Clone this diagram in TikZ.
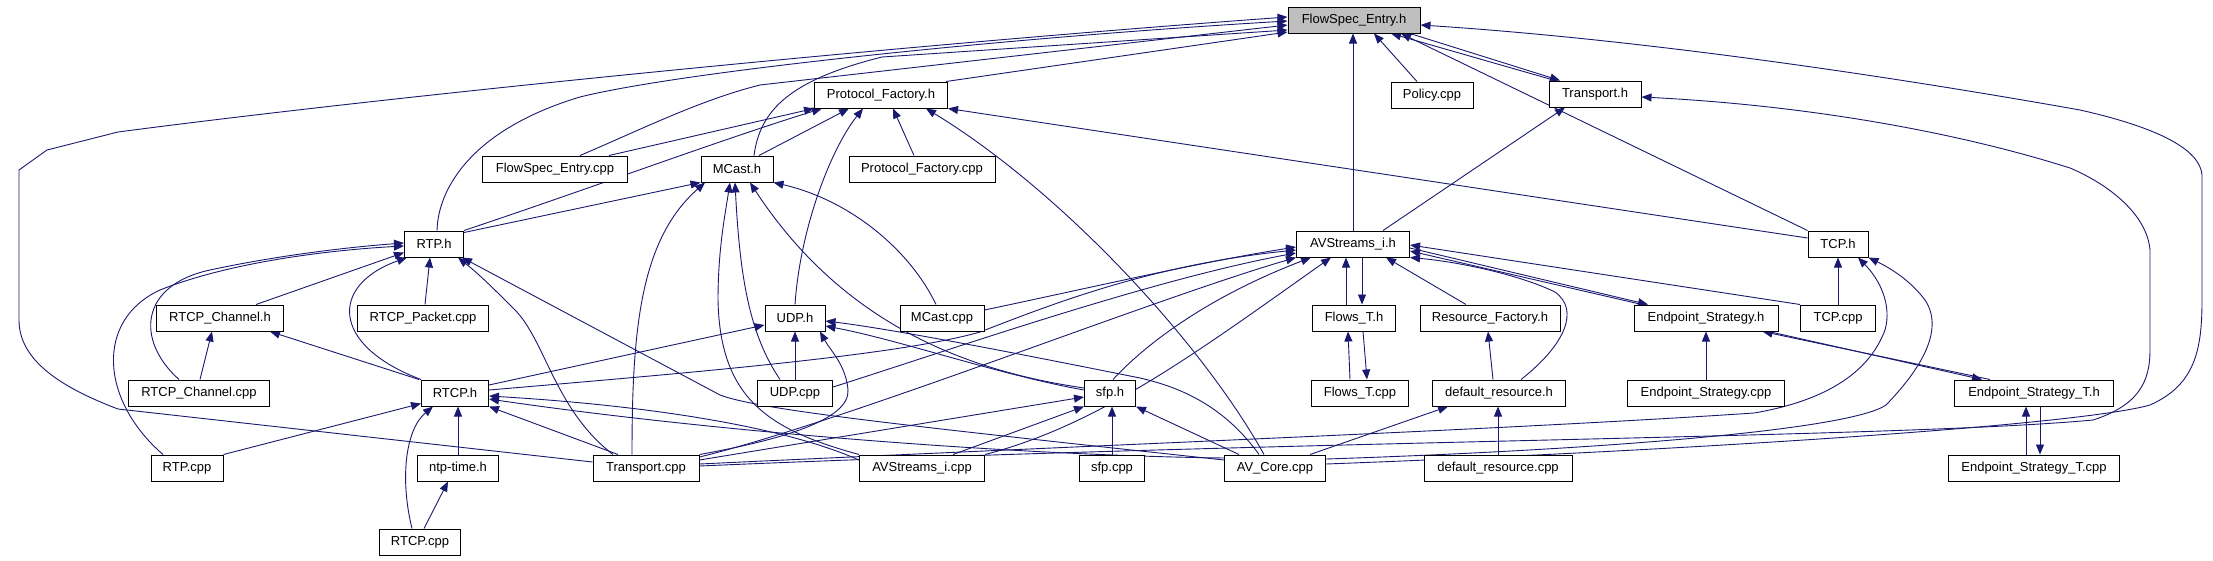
\documentclass[tikz,border=0pt]{standalone}
\usepackage{fontspec}
\setmainfont{Liberation Sans}
\usetikzlibrary{arrows.meta}
\definecolor{edgec}{RGB}{25,25,112}
\definecolor{hl}{RGB}{191,191,191}
\pgfdeclarelayer{back}
\pgfdeclarelayer{edges}
\pgfsetlayers{back,edges,main}
\tikzset{
  fnode/.style={draw=black, line width=1pt, fill=white, minimum height=26pt, inner sep=0pt, font=\fontsize{13}{15}\selectfont},
  dep/.style={draw=edgec, line width=0.9pt, -{Triangle[length=10pt,width=8pt]}},
}
\begin{document}
\begin{tikzpicture}[x=1pt,y=-1pt]
\begin{pgfonlayer}{back}
\fill[white] (0,0) rectangle (2213,560);
\end{pgfonlayer}
\useasboundingbox (0,0) rectangle (2213,560);
% nodes
\node[fnode, minimum width=132pt, fill=hl] (fesh) at (1354,20) {FlowSpec\_Entry.h};
\node[fnode, minimum width=133pt] (pfh) at (881,95) {Protocol\_Factory.h};
\node[fnode, minimum width=82pt] (pol) at (1432,95) {Policy.cpp};
\node[fnode, minimum width=92pt] (trh) at (1595,94) {Transport.h};
\node[fnode, minimum width=145pt] (fesc) at (555,169) {FlowSpec\_Entry.cpp};
\node[fnode, minimum width=72pt] (mch) at (737,169) {MCast.h};
\node[fnode, minimum width=146pt] (pfc) at (922,169) {Protocol\_Factory.cpp};
\node[fnode, minimum width=59pt] (rtph) at (434,244) {RTP.h};
\node[fnode, minimum width=113pt] (avh) at (1353,244) {AVStreams\_i.h};
\node[fnode, minimum width=60pt] (tcph) at (1838,244) {TCP.h};
\node[fnode, minimum width=127pt] (rcch) at (220,318) {RTCP\_Channel.h};
\node[fnode, minimum width=131pt] (rpc) at (423,318) {RTCP\_Packet.cpp};
\node[fnode, minimum width=60pt] (udph) at (795,318) {UDP.h};
\node[fnode, minimum width=84pt] (mcc) at (942,318) {MCast.cpp};
\node[fnode, minimum width=83pt] (flh) at (1354,318) {Flows\_T.h};
\node[fnode, minimum width=140pt] (rfh) at (1490,318) {Resource\_Factory.h};
\node[fnode, minimum width=144pt] (esh) at (1706,318) {Endpoint\_Strategy.h};
\node[fnode, minimum width=75pt] (tcpc) at (1838,318) {TCP.cpp};
\node[fnode, minimum width=141pt] (rccc) at (199,393) {RTCP\_Channel.cpp};
\node[fnode, minimum width=67pt] (rtcph) at (455,393) {RTCP.h};
\node[fnode, minimum width=75pt] (udpc) at (795,393) {UDP.cpp};
\node[fnode, minimum width=51pt] (sfph) at (1110,393) {sfp.h};
\node[fnode, minimum width=97pt] (flc) at (1360,393) {Flows\_T.cpp};
\node[fnode, minimum width=133pt] (drh) at (1499,393) {default\_resource.h};
\node[fnode, minimum width=157pt] (esc) at (1706,393) {Endpoint\_Strategy.cpp};
\node[fnode, minimum width=159pt] (esth) at (2034,393) {Endpoint\_Strategy\_T.h};
\node[fnode, minimum width=72pt] (rtpc) at (187,468) {RTP.cpp};
\node[fnode, minimum width=81pt] (ntp) at (458,468) {ntp-time.h};
\node[fnode, minimum width=106pt] (trc) at (646,468) {Transport.cpp};
\node[fnode, minimum width=125pt] (avc) at (922,468) {AVStreams\_i.cpp};
\node[fnode, minimum width=65pt] (sfpc) at (1112,468) {sfp.cpp};
\node[fnode, minimum width=101pt] (avcore) at (1275,468) {AV\_Core.cpp};
\node[fnode, minimum width=148pt] (drc) at (1498,468) {default\_resource.cpp};
\node[fnode, minimum width=171pt] (estc) at (2034,468) {Endpoint\_Strategy\_T.cpp};
\node[fnode, minimum width=81pt] (rtcpc) at (420,542) {RTCP.cpp};
% edges
\begin{pgfonlayer}{edges}
% into FlowSpec_Entry.h
\draw[dep] ([yshift=6pt]trc.west) -- (118,409) .. controls (60,387) and (19,360) .. (19,320) -- (19,170) -- (47,150) -- (118,132) .. controls (400,95) and (900,45) .. ([yshift=3pt]fesh.west);
\draw[dep] ([xshift=3pt]rtph.north) .. controls (438,190) and (470,130) .. (580,97) .. controls (680,72) and (1000,38) .. ([yshift=-1pt]fesh.west);
\draw[dep] ([xshift=25pt]fesc.north) .. controls (640,130) and (700,100) .. (760,85) -- ([yshift=-5pt]fesh.west);
\draw[dep] ([xshift=17pt]mch.north) .. controls (760,110) and (790,80) .. (882,57) -- ([yshift=-10pt]fesh.west);
\draw[dep] ([xshift=-2pt]pfh.north east) -- ([yshift=-12pt]fesh.west);
\draw[dep] ([xshift=-15pt]pol.north) -- ([xshift=20pt]fesh.south);
\draw[dep] (avh.north) -- (avh.north |- fesh.south);
\draw[dep] ([xshift=-40pt]trh.north) -- ([xshift=37pt]fesh.south);
\draw[dep] ([xshift=56pt]fesh.south) -- ([xshift=-35pt]trh.north);
\draw[dep] (tcph.north west) -- ([xshift=47pt]fesh.south);
\draw[dep] ([yshift=4pt]avcore.east) .. controls (1700,450) and (2080,425) .. (2150,405) .. controls (2195,385) and (2202,350) .. (2202,300) -- (2202,175) .. controls (2200,150) and (2160,128) .. (2080,110) .. controls (1900,78) and (1650,40) .. ([yshift=-5pt]fesh.east);
% Transport.h
\draw[dep] ([xshift=30pt]avh.north) -- ([xshift=-30pt]trh.south);
\draw[dep] ([yshift=2pt]trc.east) .. controls (1300,440) and (1900,438) .. (2093,420) .. controls (2140,405) and (2150,380) .. (2150,350) -- (2150,250) .. controls (2147,215) and (2110,185) .. (2070,168) .. controls (1950,130) and (1800,105) .. ([yshift=-3pt]trh.east);
% TCP.h
\draw[dep] (tcpc.north) -- (tcph.south);
\draw[dep] ([yshift=4pt]trc.east) .. controls (1100,445) and (1500,430) .. (1754,413) .. controls (1830,400) and (1870,370) .. (1885,330) .. controls (1892,305) and (1880,280) .. ([xshift=20pt]tcph.south);
\draw[dep] ([yshift=9pt]avcore.east) .. controls (1600,450) and (1850,430) .. (1886,405) .. controls (1920,370) and (1945,330) .. (1925,300) .. controls (1910,280) and (1890,268) .. (tcph.south east);
% Protocol_Factory.h
\draw[dep] ([xshift=54pt]fesc.north) -- (pfh.south west);
\draw[dep] (rtph.north east) .. controls (600,185) and (720,140) .. ([xshift=8pt]pfh.south west);
\draw[dep] ([xshift=22pt]mch.north) -- ([xshift=-32pt]pfh.south);
\draw[dep] (udph.north) .. controls (800,230) and (830,150) .. ([xshift=-18pt]pfh.south);
\draw[dep] ([xshift=-8pt]pfc.north) -- ([xshift=12pt]pfh.south);
\draw[dep] ([xshift=-11pt]avcore.north) .. controls (1200,340) and (1060,190) .. ([xshift=45pt]pfh.south);
\draw[dep] ([yshift=6pt]tcph.west) -- (pfh.south east);
% MCast.h
\draw[dep] ([yshift=-2pt]rtph.north east) -- (mch.south west);
\draw[dep] ([xshift=-14pt]trc.north) .. controls (632,330) and (640,240) .. ([xshift=-32pt]mch.south);
\draw[dep] (avc.north west) .. controls (770,430) and (720,400) .. (718,300) .. controls (718,250) and (725,215) .. ([xshift=-7pt]mch.south);
\draw[dep] ([xshift=-15pt]udpc.north) .. controls (750,335) and (740,280) .. ([xshift=-2pt]mch.south);
\draw[dep] ([yshift=5pt]sfph.west) .. controls (960,370) and (840,320) .. ([xshift=13pt]mch.south);
\draw[dep] ([xshift=-6pt]mcc.north) .. controls (910,250) and (850,200) .. (mch.south east);
% RTP.h
\draw[dep] ([xshift=-20pt]rccc.north) .. controls (135,340) and (140,285) .. (210,270) .. controls (280,255) and (350,247) .. ([yshift=1pt]rtph.west);
\draw[dep] ([xshift=-24pt]rtpc.north) .. controls (100,400) and (95,320) .. (160,290) .. controls (230,262) and (330,250) .. ([yshift=-2pt]rtph.west);
\draw[dep] ([xshift=36pt]rcch.north) -- ([yshift=5pt]rtph.south west);
\draw[dep] ([xshift=2pt]rpc.north) -- ([xshift=-4pt]rtph.south);
\draw[dep] (rtcph.north west) .. controls (330,345) and (330,285) .. ([xshift=3pt]rtph.south west);
\draw[dep] ([xshift=-33pt]trc.north) .. controls (555,410) and (545,340) .. (515,310) .. controls (495,290) and (480,275) .. ([xshift=-6pt]rtph.south east);
\draw[dep] ([yshift=8pt]avcore.west) .. controls (900,425) and (760,410) .. (720,395) -- ([xshift=-2pt]rtph.south east);
% RTCP_Channel.h
\draw[dep] ([xshift=1pt]rccc.north) -- ([xshift=-8pt]rcch.south);
\draw[dep] ([xshift=-2pt]rtcph.north west) -- ([xshift=-14pt]rcch.south east);
% RTCP.h
\draw[dep] (rtpc.north east) -- ([yshift=3pt]rtcph.south west);
\draw[dep] (ntp.north) -- (ntp.north |- rtcph.south);
\draw[dep] ([xshift=-8pt]rtcpc.north) .. controls (400,480) and (405,430) .. ([xshift=-22pt]rtcph.south);
\draw[dep] ([xshift=-28pt]trc.north) -- (rtcph.south east);
\draw[dep] ([yshift=8pt]avc.west) .. controls (780,425) and (640,405) .. ([yshift=-3pt]rtcph.east);
\draw[dep] ([yshift=10pt]avcore.west) .. controls (1000,455) and (700,430) .. ([yshift=-6pt]rtcph.east);
% UDP.h
\draw[dep] ([yshift=8pt]rtcph.east) -- ([yshift=-7pt]udph.west);
\draw[dep] (udpc.north) -- (udph.south);
\draw[dep] (trc.north east) .. controls (780,440) and (850,420) .. (848,390) .. controls (846,365) and (830,350) .. ([xshift=25pt]udph.south);
\draw[dep] ([yshift=3pt]sfph.west) .. controls (1000,375) and (900,340) .. ([yshift=-8pt]udph.east);
\draw[dep] ([xshift=-16pt]avcore.north) .. controls (1220,400) and (1170,385) .. (1140,378) .. controls (1050,360) and (900,330) .. ([yshift=-3pt]udph.east);
% AVStreams_i.h
\draw[dep] ([yshift=8pt]mcc.east) .. controls (1080,290) and (1200,262) .. ([yshift=-3pt]avh.west);
\draw[dep] ([yshift=3pt]rtcph.east) .. controls (700,372) and (900,355) .. (980,332) .. controls (1050,305) and (1150,265) .. ([yshift=-6pt]avh.west);
\draw[dep] ([yshift=6pt]udpc.east) .. controls (950,350) and (1150,280) .. ([yshift=-9pt]avh.west);
\draw[dep] ([yshift=11pt]trc.east) .. controls (850,420) and (1150,300) .. (avh.south west);
\draw[dep] ([xshift=3pt]sfph.north) .. controls (1140,350) and (1200,300) .. ([xshift=-42pt]avh.south);
\draw[dep] (avc.north east) .. controls (1100,425) and (1200,350) .. ([xshift=-22pt]avh.south);
\draw[dep] ([xshift=-8pt]flh.north) -- ([xshift=-7pt]avh.south);
\draw[dep] ([xshift=9pt]avh.south) -- ([xshift=8pt]flh.north);
\draw[dep] ([xshift=-24pt]rfh.north) -- ([xshift=33pt]avh.south);
\draw[dep] ([xshift=22pt]drh.north) .. controls (1565,345) and (1580,310) .. (1555,292) .. controls (1520,275) and (1460,262) .. (avh.south east);
\draw[dep] ([yshift=-4pt]avh.east) -- ([xshift=-58pt]esh.north);
\draw[dep] ([xshift=-64pt]esh.north) -- ([yshift=-7pt]avh.east);
\draw[dep] (tcpc.north west) -- ([yshift=-1pt]avh.east);
% Endpoint strategy
\draw[dep] (esc.north) -- (esh.south);
\draw[dep] ([xshift=-44pt]esth.north) -- ([xshift=-16pt]esh.south east);
\draw[dep] ([xshift=-10pt]esh.south east) -- ([xshift=-52pt]esth.north);
\draw[dep] ([xshift=-8pt]estc.north) -- ([xshift=-8pt]esth.south);
\draw[dep] ([xshift=6pt]esth.south) -- ([xshift=6pt]estc.north);
% Flows
\draw[dep] ([xshift=-10pt]flc.north) -- ([xshift=-6pt]flh.south);
\draw[dep] ([xshift=9pt]flh.south) -- ([xshift=7pt]flc.north);
% resources
\draw[dep] ([xshift=-6pt]drh.north) -- ([xshift=-2pt]rfh.south);
\draw[dep] (drc.north) -- (drc.north |- drh.south);
\draw[dep] ([xshift=35pt]avcore.north) -- ([xshift=16pt]drh.south west);
% sfp.h
\draw[dep] (sfpc.north) -- (sfpc.north |- sfph.south);
\draw[dep] ([xshift=31pt]avc.north) -- (sfph.south west);
\draw[dep] ([yshift=8pt]trc.east) -- ([yshift=-4pt]sfph.west);
\draw[dep] ([xshift=-36pt]avcore.north) -- (sfph.south east);
% ntp-time.h
\draw[dep] ([xshift=4pt]rtcpc.north) -- ([xshift=-10pt]ntp.south);
\end{pgfonlayer}
\end{tikzpicture}
\end{document}
